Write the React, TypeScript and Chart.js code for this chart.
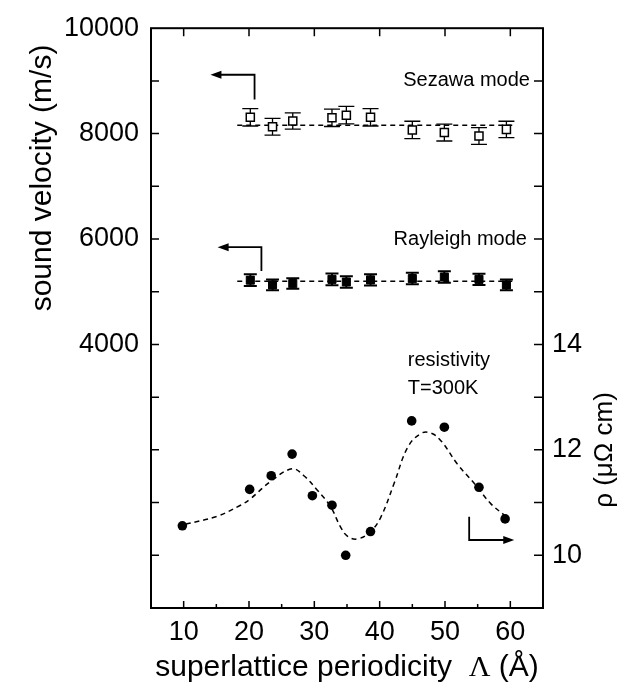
import React, { useEffect, useRef } from 'react';
import { Chart, registerables } from 'chart.js';

Chart.register(...registerables);

// ---- data ----
const periodicity = [9.8, 20.1, 23.4, 26.6, 29.7, 32.7, 34.8, 38.6, 44.9, 49.9, 55.2, 59.2];
const resistivity = [10.56, 11.25, 11.51, 11.92, 11.13, 10.95, 10.0, 10.45, 12.55, 12.43, 11.29, 10.69];

const velocityX = [20.2, 23.6, 26.7, 32.7, 34.9, 38.6, 45.0, 49.9, 55.2, 59.4];
const sezawaV = [8310, 8130, 8240, 8300, 8350, 8310, 8070, 8020, 7955, 8080];
const sezawaErr = [165, 160, 155, 165, 165, 165, 165, 160, 160, 155];
const rayleighV = [5220, 5130, 5155, 5235, 5185, 5225, 5250, 5280, 5235, 5130];
const rayleighErr = [110, 100, 100, 110, 110, 105, 110, 110, 105, 100];

const sezawaFitX = [18.2, 60.4];
const sezawaFitV = [8160, 8160];
const rayleighFitX = [18.2, 60.4];
const rayleighFitV = [5200, 5200];

const resFitX = [10.3, 15.1, 18.7, 20.2, 23.3, 26.6, 28.4, 30.5, 32.5, 34.0, 35.1, 36.6, 38.6, 40.2, 42.2, 44.3, 46.3, 47.8, 49.4, 51.9, 54.5, 57.0, 59.1];
const resFitY = [10.59, 10.74, 10.95, 11.07, 11.40, 11.64, 11.51, 11.23, 10.92, 10.54, 10.36, 10.31, 10.45, 10.73, 11.36, 12.05, 12.31, 12.32, 12.17, 11.73, 11.36, 10.98, 10.76];

const xTickLabels = [10, 20, 30, 40, 50, 60];
const xMinorTicks = [15, 25, 35, 45, 55];
const leftTickLabels = [4000, 6000, 8000, 10000];
const leftTicks = [0, 1000, 2000, 3000, 4000, 5000, 6000, 7000, 8000, 9000];
const rightTickLabels = [10, 12, 14];
const rightTicks = [10, 11, 12, 13, 14, 15, 16, 17, 18, 19];

// annotation arrows (data coordinates) : [x, y] path, arrowhead at the last point
const sezawaArrow = [[20.85, 8646], [20.85, 9117], [14.1, 9117]];
const rayleighArrow = [[21.9, 5393], [21.9, 5845], [15.2, 5845]];
const resistivityArrow = [[53.7, 10.73], [53.7, 10.29], [60.6, 10.29]];

const W = 639;
const H = 688;
const SANS = "'Liberation Sans', Arial, Helvetica, sans-serif";
const SERIF = "'Liberation Serif', 'Times New Roman', serif";

const pts = (xs: number[], ys: number[]) => xs.map((x, i) => ({ x, y: ys[i] }));

const decorPlugin = {
  id: 'decor',
  beforeDatasetsDraw(chart: any) {
    const ctx = chart.ctx;
    const xs = chart.scales.x;
    chart.data.datasets.forEach((ds: any) => {
      if (!ds.errors) return;
      const ys = chart.scales[ds.yAxisID];
      ctx.save();
      ctx.strokeStyle = '#000';
      ctx.lineWidth = ds.errWidth || 1.3;
      ds.data.forEach((p: any, i: number) => {
        const e = ds.errors[i];
        const px = xs.getPixelForValue(p.x);
        const t = ys.getPixelForValue(p.y + e);
        const b = ys.getPixelForValue(p.y - e);
        const c = ds.capHalf || 7;
        ctx.beginPath();
        ctx.moveTo(px, t); ctx.lineTo(px, b);
        ctx.moveTo(px - c, t); ctx.lineTo(px + c, t);
        ctx.moveTo(px - c, b); ctx.lineTo(px + c, b);
        ctx.stroke();
      });
      ctx.restore();
    });
  },
  afterDatasetsDraw(chart: any) {
    const ctx = chart.ctx;
    const xs = chart.scales.x;
    const drawArrow = (path: number[][], ys: any) => {
      const p = path.map(([x, y]) => [xs.getPixelForValue(x), ys.getPixelForValue(y)]);
      ctx.save();
      ctx.strokeStyle = '#000';
      ctx.fillStyle = '#000';
      ctx.lineWidth = 1.8;
      const n = p.length;
      const [x1, y1] = p[n - 2];
      const [x2, y2] = p[n - 1];
      const ang = Math.atan2(y2 - y1, x2 - x1);
      const L = 11, hw = 4;
      ctx.beginPath();
      ctx.moveTo(p[0][0], p[0][1]);
      for (let i = 1; i < n - 1; i++) ctx.lineTo(p[i][0], p[i][1]);
      ctx.lineTo(x2 - Math.cos(ang) * L * 0.8, y2 - Math.sin(ang) * L * 0.8);
      ctx.stroke();
      ctx.beginPath();
      ctx.moveTo(x2, y2);
      ctx.lineTo(x2 - Math.cos(ang) * L - Math.sin(ang) * hw, y2 - Math.sin(ang) * L + Math.cos(ang) * hw);
      ctx.lineTo(x2 - Math.cos(ang) * L + Math.sin(ang) * hw, y2 - Math.sin(ang) * L - Math.cos(ang) * hw);
      ctx.closePath();
      ctx.fill();
      ctx.restore();
    };
    drawArrow(sezawaArrow, chart.scales.y);
    drawArrow(rayleighArrow, chart.scales.y);
    drawArrow(resistivityArrow, chart.scales.y1);

    ctx.save();
    ctx.fillStyle = '#000';
    ctx.font = `20px ${SANS}`;
    ctx.textBaseline = 'middle';
    ctx.textAlign = 'right';
    ctx.fillText('Sezawa mode', xs.getPixelForValue(63.0), chart.scales.y.getPixelForValue(9000));
    ctx.fillText('Rayleigh mode', xs.getPixelForValue(62.55), chart.scales.y.getPixelForValue(6000));
    ctx.textAlign = 'left';
    ctx.fillText('resistivity', xs.getPixelForValue(44.3), chart.scales.y1.getPixelForValue(13.7));
    ctx.fillText('T=300K', xs.getPixelForValue(44.3), chart.scales.y1.getPixelForValue(13.16));
    ctx.restore();
  },
  afterDraw(chart: any) {
    const ctx = chart.ctx;
    const { left, right, top, bottom } = chart.chartArea;
    const xs = chart.scales.x, ys = chart.scales.y, y1 = chart.scales.y1;
    ctx.save();
    ctx.strokeStyle = '#000';
    ctx.lineWidth = 2;
    ctx.strokeRect(left, top, right - left, bottom - top);
    ctx.lineWidth = 1.5;
    ctx.beginPath();
    xTickLabels.forEach((v) => {
      const px = xs.getPixelForValue(v);
      ctx.moveTo(px, bottom); ctx.lineTo(px, bottom - 7);
      ctx.moveTo(px, top); ctx.lineTo(px, top + 8);
    });
    xMinorTicks.forEach((v) => {
      const px = xs.getPixelForValue(v);
      ctx.moveTo(px, bottom); ctx.lineTo(px, bottom - 4);
    });
    leftTicks.forEach((v) => {
      const py = ys.getPixelForValue(v);
      ctx.moveTo(left, py); ctx.lineTo(left + 8, py);
    });
    rightTicks.forEach((v) => {
      const py = y1.getPixelForValue(v);
      ctx.moveTo(right, py); ctx.lineTo(right - 9, py);
    });
    ctx.stroke();

    // axis titles
    ctx.fillStyle = '#000';
    ctx.textBaseline = 'alphabetic';
    ctx.textAlign = 'center';
    ctx.save();
    ctx.translate(51, 178);
    ctx.rotate(-Math.PI / 2);
    ctx.font = `30px ${SANS}`;
    ctx.fillText('sound velocity (m/s)', 0, 0);
    ctx.restore();

    ctx.save();
    ctx.translate(612, 450);
    ctx.rotate(-Math.PI / 2);
    ctx.font = `26px ${SANS}`;
    ctx.fillText('\u03c1 (\u03bc\u03a9 cm)', 0, 0);
    ctx.restore();

    const parts = [
      { t: 'superlattice periodicity  ', f: `30px ${SANS}` },
      { t: '\u039b', f: `30px ${SERIF}` },
      { t: ' (\u00c5)', f: `30px ${SANS}` },
    ];
    let total = 0;
    const widths = parts.map((p) => { ctx.font = p.f; const w = ctx.measureText(p.t).width; total += w; return w; });
    let cx = (left + right) / 2 - total / 2;
    ctx.textAlign = 'left';
    parts.forEach((p, i) => { ctx.font = p.f; ctx.fillText(p.t, cx, 676); cx += widths[i]; });
    ctx.restore();
  },
};

export default function App() {
  const ref = useRef<HTMLCanvasElement>(null);
  useEffect(() => {
    const canvas = ref.current!;
    const tickFont = { family: SANS, size: 27 };
    const chart = new Chart(canvas, {
      type: 'scatter',
      data: {
        datasets: [
          {
            label: 'Sezawa mode',
            data: pts(velocityX, sezawaV),
            yAxisID: 'y',
            pointStyle: 'rect',
            pointRadius: 5.7,
            pointBackgroundColor: '#fff',
            pointBorderColor: '#000',
            pointBorderWidth: 1.5,
            showLine: false,
            errors: sezawaErr,
            capHalf: 8,
            errWidth: 1.3,
          } as any,
          {
            label: 'Rayleigh mode',
            data: pts(velocityX, rayleighV),
            yAxisID: 'y',
            pointStyle: 'rect',
            pointRadius: 5.7,
            pointBackgroundColor: '#000',
            pointBorderColor: '#000',
            pointBorderWidth: 1,
            showLine: false,
            errors: rayleighErr,
            capHalf: 6.5,
            errWidth: 2,
          } as any,
          {
            label: 'resistivity',
            data: pts(periodicity, resistivity),
            yAxisID: 'y1',
            pointStyle: 'circle',
            pointRadius: 4.8,
            pointBackgroundColor: '#000',
            pointBorderColor: '#000',
            pointBorderWidth: 0,
            showLine: false,
          },
          {
            label: 'Sezawa fit',
            data: pts(sezawaFitX, sezawaFitV),
            yAxisID: 'y',
            showLine: true,
            borderColor: '#000',
            borderWidth: 1.5,
            borderDash: [5, 4],
            pointRadius: 0,
            fill: false,
          },
          {
            label: 'Rayleigh fit',
            data: pts(rayleighFitX, rayleighFitV),
            yAxisID: 'y',
            showLine: true,
            borderColor: '#000',
            borderWidth: 1.5,
            borderDash: [5, 4],
            pointRadius: 0,
            fill: false,
          },
          {
            label: 'resistivity fit',
            data: pts(resFitX, resFitY),
            yAxisID: 'y1',
            showLine: true,
            borderColor: '#000',
            borderWidth: 1.5,
            borderDash: [5, 4],
            pointRadius: 0,
            tension: 0.4,
            fill: false,
          },
        ],
      },
      options: {
        animation: false,
        responsive: false,
        maintainAspectRatio: false,
        layout: { padding: { top: 23, left: 0, right: 0, bottom: 0 } },
        plugins: { legend: { display: false }, tooltip: { enabled: false } },
        scales: {
          x: {
            type: 'linear',
            position: 'bottom',
            min: 5,
            max: 65,
            afterFit: (s: any) => { s.height = 80; },
            grid: { display: false, drawTicks: false },
            border: { display: false },
            ticks: {
              stepSize: 5,
              autoSkip: false,
              maxRotation: 0,
              padding: 8,
              color: '#000',
              font: tickFont,
              callback: (v: any) => (xTickLabels.includes(Number(v)) ? String(v) : ''),
            },
          },
          y: {
            type: 'linear',
            position: 'left',
            min: -1000,
            max: 10000,
            afterFit: (s: any) => { s.width = 151; },
            grid: { display: false, drawTicks: false },
            border: { display: false },
            ticks: {
              stepSize: 1000,
              autoSkip: false,
              padding: 12,
              color: '#000',
              font: tickFont,
              callback: (v: any) => (leftTickLabels.includes(Number(v)) ? String(v) : ''),
            },
          },
          y1: {
            type: 'linear',
            position: 'right',
            min: 9,
            max: 20,
            afterFit: (s: any) => { s.width = 96; },
            grid: { display: false, drawTicks: false },
            border: { display: false },
            ticks: {
              stepSize: 1,
              autoSkip: false,
              padding: 9,
              color: '#000',
              font: tickFont,
              callback: (v: any) => (rightTickLabels.includes(Number(v)) ? String(v) : ''),
            },
          },
        },
      } as any,
      plugins: [decorPlugin],
    });
    return () => chart.destroy();
  }, []);
  return (
    <div style={{ position: 'fixed', left: 0, top: 0, width: W, height: H, background: '#fff' }}>
      <canvas ref={ref} width={W} height={H} style={{ display: 'block', width: W, height: H }} />
    </div>
  );
}
